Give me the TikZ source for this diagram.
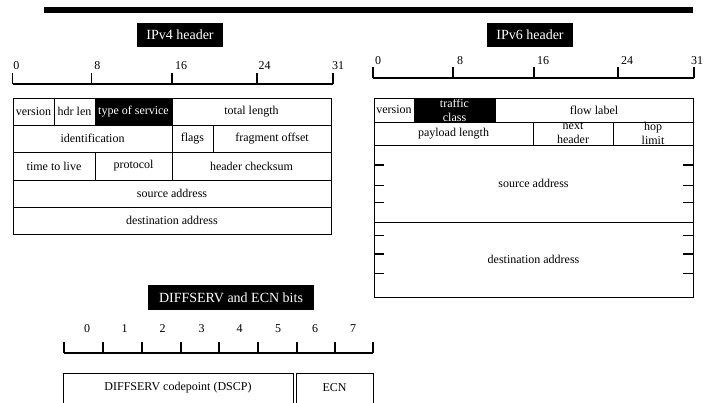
\documentclass[tikz,border=0pt]{standalone}
\usepackage{fontspec}
\setmainfont{Liberation Serif}
% field box: name, x1, y1, x2, y2, text (coordinates in pt, y grows downwards)
\newcommand{\fld}[7][field]{%
  \node[#1, minimum width={(#5-#3)*1pt}, minimum height={(#6-#4)*1pt}] (#2) at (#3,#4) {#7};}
% same, but with the text cut off at the box edges
\newcommand{\clipfld}[7][field]{%
  \begin{scope}
    \clip (#3,#4) rectangle (#5,#6);
    \fld[#1,draw=none]{#2}{#3}{#4}{#5}{#6}{#7}
  \end{scope}
  \draw[boxline] (#2.north west) rectangle (#2.south east);}
\begin{document}
\begin{tikzpicture}[x=1pt,y=-1pt,
  boxline/.style={line width=0.8pt},
  field/.style={draw=black, boxline, inner sep=0pt, outer sep=0pt, anchor=north west,
    font=\fontsize{12}{14}\selectfont, align=center},
  darkfield/.style={field, fill=black, text=white},
  title/.style={fill=black, text=white, inner sep=0pt, minimum height=24pt,
    font=\fontsize{14}{16}\selectfont},
  rulerbase/.style={line width=1.8pt},
  rulertick/.style={line width=1.2pt},
  heavytick/.style={line width=2pt},
  bitnum/.style={font=\fontsize{12}{14}\selectfont, inner sep=0pt},
  txt/.style={font=\fontsize{12}{14}\selectfont, inner sep=0pt}]
\useasboundingbox (0,0) rectangle (704,403);
\clip (0,0) rectangle (704,403);

% top rule
\fill (44,7) rectangle (693,13);

% ---------------- IPv4 header ----------------
\node[title, minimum width=86pt] (v4title) at (180,35) {IPv4 header};
\draw[rulerbase] (12.7,84) -- (333,84);
\foreach \x/\n/\d in {12.7/0/0.5, 91.7/8/2.5, 172/16/3, 257/24/1.5, 333/31/-1} {
  \draw[rulertick] (\x,73) -- (\x,84);
  \node[bitnum, anchor=south west] (v4bit\n) at (\x+\d,70) {\n};
}
\fld{v4ver}{13}{98}{54}{125}{version}
\fld{v4hl}{54}{98}{95}{125}{hdr len}
\fld[darkfield]{v4tos}{95}{98}{172}{125}{type of service}
\fld{v4len}{172}{98}{331}{125}{total length}
\fld{v4id}{13}{125}{172}{152}{identification}
\fld{v4flags}{172}{125}{213}{152}{flags}
\fld{v4frag}{213}{125}{331}{152}{fragment offset}
\fld{v4ttl}{13}{152}{95}{180}{time to live}
\fld{v4proto}{95}{152}{172}{180}{protocol}
\fld{v4sum}{172}{152}{331}{180}{header checksum}
\fld{v4src}{13}{180}{331}{207}{source address}
\fld{v4dst}{13}{207}{331}{234}{destination address}

% ---------------- IPv6 header ----------------
\node[title, minimum width=86pt] (v6title) at (530,35) {IPv6 header};
\draw[rulerbase] (373,78) -- (694,78);
\foreach \x/\n/\d in {373/0/2, 453/8/4, 534/16/3, 618/24/3, 694/31/-3} {
  \draw[rulertick] (\x,67) -- (\x,78);
  \node[bitnum, anchor=south west] (v6bit\n) at (\x+\d,65) {\n};
}
\fld{v6ver}{374}{98}{414}{122}{version}
\clipfld[darkfield]{v6tc}{414}{98}{495}{122}{traffic\\class}
\fld{v6flow}{495}{98}{693}{122}{flow label}
\fld{v6pay}{374}{122}{533}{145}{payload length}
\clipfld{v6next}{533}{122}{613}{145}{next\\header}
\clipfld{v6hop}{613}{122}{693}{145}{hop\\limit}
\fld{v6src}{374}{145}{693}{222}{source address}
\fld{v6dst}{374}{222}{693}{297}{destination address}
% 32-bit word marks along both sides
\foreach \y/\s in {165/heavytick, 185/boxline, 202/boxline, 235/boxline, 254/heavytick, 273/boxline} {
  \draw[\s] (374,\y) -- (384,\y);
  \draw[\s] (683,\y) -- (693,\y);
}

% ---------------- DIFFSERV / ECN byte ----------------
\node[title, minimum width=166pt, minimum height=25pt] (dstitle) at (231,297.5) {DIFFSERV and ECN bits};
\draw[rulerbase] (64,353) -- (373,353);
\foreach \x/\s in {64/rulertick, 103/rulertick, 142/rulertick, 181/rulertick, 219/heavytick,
                   258/rulertick, 297/heavytick, 335/rulertick, 373/rulertick} {
  \draw[\s] (\x,342) -- (\x,353);
}
\foreach \x/\n in {87/0, 124.5/1, 162.5/2, 201.5/3, 239.5/4, 278/5, 315/6, 353/7} {
  \node[bitnum] (dsbit\n) at (\x,329) {\n};
}
\fld{dscp}{63}{373}{293}{433}{}
\fld{ecn}{296}{373}{373}{433}{}
\node[txt] (dscplabel) at (178,388) {DIFFSERV codepoint (DSCP)};
\node[txt] (ecnlabel) at (334.5,388) {ECN};
\end{tikzpicture}
\end{document}
